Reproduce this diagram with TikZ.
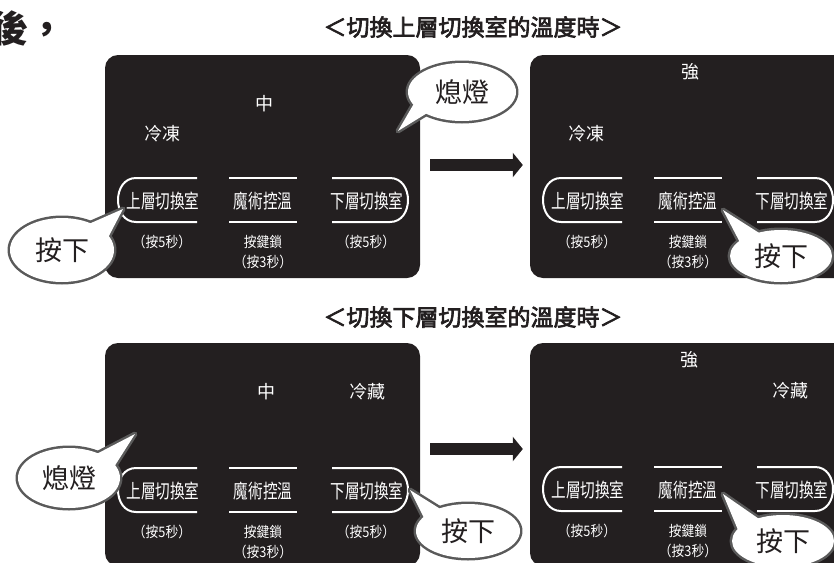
\documentclass[tikz,border=0pt]{standalone}
\usepackage{fontspec}
\usetikzlibrary{arrows.meta}
\newfontfamily\cjk{Noto Sans CJK TC}
\newfontfamily\cjkmed[FakeBold=3]{Noto Sans CJK TC}
\newfontfamily\cjkbtn[FakeStretch=0.75]{Noto Sans CJK TC}
\newfontfamily\cjksub[FakeStretch=0.88]{Noto Sans CJK TC}
\definecolor{panelblack}{HTML}{231F20}
\definecolor{bubblegray}{HTML}{5A5A5A}
\definecolor{inkblack}{HTML}{231F20}
\tikzset{
  panel/.style={fill=panelblack, rounded corners=13pt, minimum width=315pt, minimum height=223pt, inner sep=0pt, draw=none},
  panelwide/.style={panel, minimum width=330pt},
  btnline/.style={draw=white, line width=2pt},
  btntext/.style={text=white, font=\cjkbtn\fontsize{19.5}{19.5}\selectfont, inner sep=0pt},
  stattext/.style={text=white, font=\cjk\fontsize{18}{18}\selectfont, inner sep=0pt},
  subtext/.style={text=white, font=\cjksub\fontsize{14.5}{14.5}\selectfont, inner sep=0pt},
  header/.style={text=inkblack, font=\cjkmed\fontsize{23}{23}\selectfont, inner sep=0pt},
  leadtext/.style={text=inkblack, font=\cjk\bfseries\fontsize{37}{37}\selectfont, inner sep=0pt, anchor=west},
  bubbletext/.style={text=inkblack, font=\cjk\fontsize{27}{27}\selectfont, inner sep=0pt},
  bubbleline/.style={draw=bubblegray, line width=5pt, line join=round},
  bubblefill/.style={fill=white},
  bigarrow/.style={draw=inkblack, line width=12pt, -{Triangle[length=10pt,width=24pt]}},
}
\newcommand\keyrow[1]{%
  \draw[btnline] (197,178) -- (136,178) .. controls (112,178) and (112,222) .. (136,222) -- (197,222);
  \draw[btnline] (229,178) -- (297,178) (229,222) -- (297,222);
  \draw[btnline] (332,178) -- (390,178) .. controls (414,178) and (414,222) .. (390,222) -- (332,222);
  \node[btntext] (#1up) at (163,201) {上層切換室};
  \node[btntext] (#1magic) at (263,201) {魔術控溫};
  \node[btntext] (#1low) at (367,201) {下層切換室};
  \node[subtext] (#1upsub) at (162,242) {（按5秒）};
  \node[subtext] (#1lock) at (263,242) {按鍵鎖};
  \node[subtext] (#1locksub) at (263,262) {（按3秒）};
}
\newcommand\bubble[8]{%
  \draw[bubbleline] (#2) ellipse [x radius=#3pt, y radius=#4pt];
  \draw[bubbleline] (#5) -- (#6) -- (#7) -- cycle;
  \fill[bubblefill] (#2) ellipse [x radius=#3pt, y radius=#4pt];
  \fill[bubblefill] (#5) -- (#6) -- (#7) -- cycle;
  \node[bubbletext] (#1) at (#2) {#8};
}
\begin{document}
\begin{tikzpicture}[x=1pt, y=-1pt]
  \useasboundingbox (0,0) rectangle (834,562);
  \clip (0,0) rectangle (834,562);
  % panels
  \node[panel] (p1) at (262.5,166.5) {};
  \node[panelwide] (p2) at (695,166.5) {};
  \node[panel] (p3) at (262.5,454.5) {};
  \node[panelwide] (p4) at (695,454.5) {};
  % key rows
  \keyrow{a}
  \node[subtext] (alowsub) at (366,242) {（按5秒）};
  \begin{scope}[shift={(425,0)}]\keyrow{b}\end{scope}
  \begin{scope}[shift={(0,290)}]\keyrow{c}
    \node[subtext] (clowsub) at (366,242) {（按5秒）};
  \end{scope}
  \begin{scope}[shift={(425,289)}]\keyrow{d}\end{scope}
  % status labels
  \node[stattext] (amid) at (264,104) {中};
  \node[stattext] (afrz) at (162,134) {冷凍};
  \node[stattext] (bstr) at (690,72) {強};
  \node[stattext] (bfrz) at (586,134) {冷凍};
  \node[stattext] (cmid) at (266,392) {中};
  \node[stattext] (cref) at (367,392) {冷藏};
  \node[stattext] (dstr) at (689,360) {強};
  \node[stattext] (dref) at (790,391) {冷藏};
  % arrows
  \draw[bigarrow] ([xshift=10pt,yshift=1.5pt]p1.east) -- ([xshift=-7pt,yshift=1.5pt]p2.west);
  \draw[bigarrow] ([xshift=10pt,yshift=5.5pt]p3.east) -- ([xshift=-7pt,yshift=5.5pt]p4.west);
  % bubbles
  \bubble{boff1}{462,92}{54}{29}{398,131}{423,88}{450,99}{熄燈}
  \bubble{bpush1}{62,250}{52}{32}{123,209}{75,230}{100,253}{按下}
  \bubble{bpush2}{781,256}{51}{26}{723,210}{745,252}{775,243}{按下}
  \bubble{boff2}{69,478}{51}{30}{135,434}{85,460}{107,478}{熄燈}
  \bubble{bpush3}{468,531}{52}{27}{410,490}{432,534}{458,520}{按下}
  \bubble{bpush4}{783,541}{51}{26}{723,494}{743,542}{775,530}{按下}
  % headers
  \node[leadtext] (lead) at (-9,28) {後，};
  \node[header] (head1) at (473,27) {＜切換上層切換室的溫度時＞};
  \node[header] (head2) at (473,317) {＜切換下層切換室的溫度時＞};
\end{tikzpicture}
\end{document}
